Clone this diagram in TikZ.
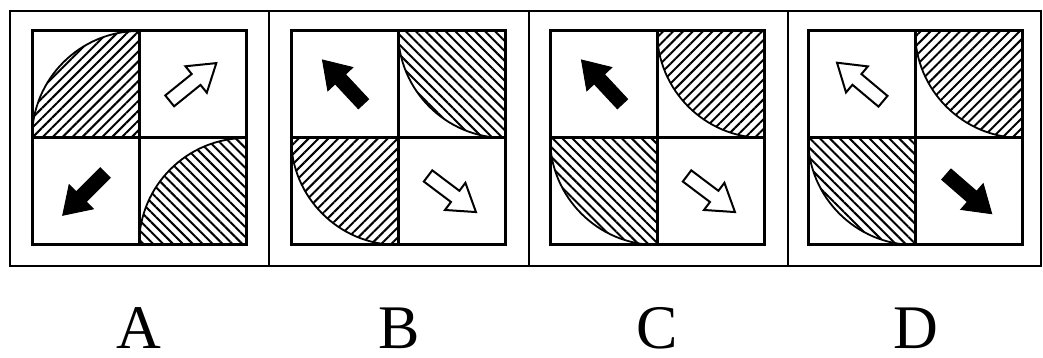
\documentclass[tikz,border=0pt]{standalone}
\usepackage{fontspec}
\setmainfont{Liberation Serif}
\usetikzlibrary{patterns.meta}

\begin{document}
\begin{tikzpicture}[x=1pt, y=1pt,
    frame/.style={line width=2.8pt},
    cellgrid/.style={line width=3pt, line cap=rect},
    hatchNE/.style={pattern={Lines[angle=45, distance=7pt, line width=2pt]}},
    hatchNW/.style={pattern={Lines[angle=-45, distance=7pt, line width=2pt]}},
    rim/.style={line width=1.8pt},
    blockarrow/.pic={\path[pic actions] (-30,-7) -- (4,-7) -- (4,-17) -- (30,0) -- (4,17) -- (4,7) -- (-30,7) -- cycle;},
    solidarr/.style={fill=black, draw=black, line width=1pt},
    hollowarr/.style={fill=white, draw=black, line width=2pt},
    lbl/.style={font=\fontsize{62}{62}\selectfont, inner sep=0pt}
]
\useasboundingbox (0,0) rectangle (1043,358);

% --- Outer frame ---
\draw[frame] (10,92) rectangle (1041,347);
\draw[frame] (269,92) -- (269,347);
\draw[frame] (529,92) -- (529,347);
\draw[frame] (788,92) -- (788,347);

% --- Panel A ---
\begin{scope}[shift={(32,113)}]
\fill[hatchNE] (107,107) -- (107,214) arc[start angle=90, end angle=180, radius=107] -- cycle;
\draw[rim] (107,214) arc[start angle=90, end angle=180, radius=107];
\fill[hatchNW] (214,0) -- (214,107) arc[start angle=90, end angle=180, radius=107] -- cycle;
\draw[rim] (214,107) arc[start angle=90, end angle=180, radius=107];
\pic[hollowarr, rotate=39] at (161,163) {blockarrow};
\pic[solidarr, rotate=225] at (52,51) {blockarrow};
\draw[cellgrid] (0,0) rectangle (214,214) (107,0) -- (107,214) (0,107) -- (214,107);
\end{scope}

% --- Panel B ---
\begin{scope}[shift={(291,113)}]
\fill[hatchNW] (214,214) -- (107,214) arc[start angle=180, end angle=270, radius=107] -- cycle;
\draw[rim] (107,214) arc[start angle=180, end angle=270, radius=107];
\fill[hatchNE] (107,107) -- (0,107) arc[start angle=180, end angle=270, radius=107] -- cycle;
\draw[rim] (0,107) arc[start angle=180, end angle=270, radius=107];
\pic[solidarr, rotate=133] at (52,163) {blockarrow};
\pic[hollowarr, rotate=-37] at (161,51) {blockarrow};
\draw[cellgrid] (0,0) rectangle (214,214) (107,0) -- (107,214) (0,107) -- (214,107);
\end{scope}

% --- Panel C ---
\begin{scope}[shift={(550,113)}]
\fill[hatchNE] (214,214) -- (107,214) arc[start angle=180, end angle=270, radius=107] -- cycle;
\draw[rim] (107,214) arc[start angle=180, end angle=270, radius=107];
\fill[hatchNW] (107,107) -- (0,107) arc[start angle=180, end angle=270, radius=107] -- cycle;
\draw[rim] (0,107) arc[start angle=180, end angle=270, radius=107];
\pic[solidarr, rotate=133] at (52,163) {blockarrow};
\pic[hollowarr, rotate=-37] at (161,51) {blockarrow};
\draw[cellgrid] (0,0) rectangle (214,214) (107,0) -- (107,214) (0,107) -- (214,107);
\end{scope}

% --- Panel D ---
\begin{scope}[shift={(808,113)}]
\fill[hatchNE] (214,214) -- (107,214) arc[start angle=180, end angle=270, radius=107] -- cycle;
\draw[rim] (107,214) arc[start angle=180, end angle=270, radius=107];
\fill[hatchNW] (107,107) -- (0,107) arc[start angle=180, end angle=270, radius=107] -- cycle;
\draw[rim] (0,107) arc[start angle=180, end angle=270, radius=107];
\pic[hollowarr, rotate=140] at (52,163) {blockarrow};
\pic[solidarr, rotate=-41] at (161,51) {blockarrow};
\draw[cellgrid] (0,0) rectangle (214,214) (107,0) -- (107,214) (0,107) -- (214,107);
\end{scope}

% --- Labels ---
\node[lbl] (labA) at (139,30) {A};
\node[lbl] (labB) at (399,30) {B};
\node[lbl] (labC) at (657,30) {C};
\node[lbl] (labD) at (916,30) {D};
\end{tikzpicture}
\end{document}
